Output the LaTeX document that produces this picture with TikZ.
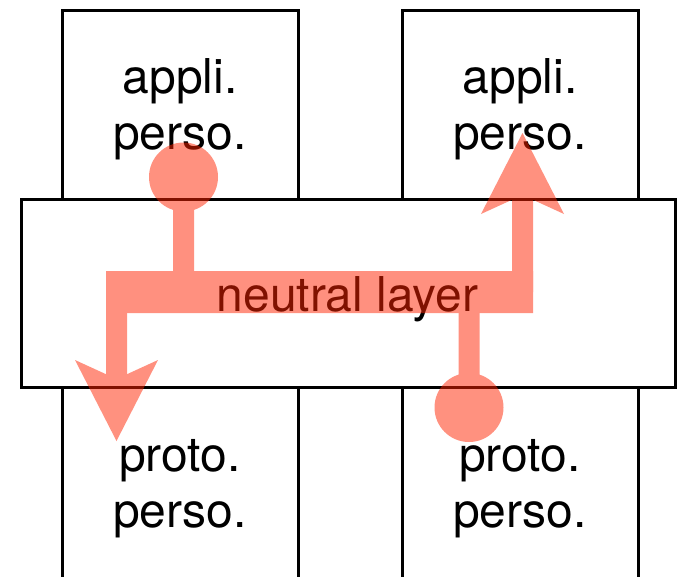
\documentclass[tikz,border=0pt]{standalone}
\usepackage{fontspec}
\setmainfont{TeX Gyre Heros}
\usetikzlibrary{arrows.meta}
\definecolor{salmonc}{RGB}{255,35,0}
\begin{document}
\begin{tikzpicture}[x=1pt,y=-1pt,
  box/.style={draw=black, line width=3pt, rectangle, inner sep=0pt, minimum width=236pt},
  lbl/.style={anchor=base, align=center, inner sep=0pt, font=\fontsize{48}{56.5}\selectfont},
  dot/.style={circle, fill=salmonc, inner sep=0pt, minimum size=69pt},
  barbox/.style={rectangle, fill=salmonc, inner sep=0pt, minimum width=427pt, minimum height=42pt},
  conn/.style={draw=salmonc, line width=21pt},
  bigtip/.style={-{Stealth[length=81pt,width=83pt,inset=19pt,line width=0pt]}}
]
\clip (0,0) rectangle (677,576);
% boxes
\node[box, minimum height=189pt] (tl) at (180,104.5) {};
\node[box, minimum height=189pt] (tr) at (520,104.5) {};
\node[box, minimum height=232.5pt] (bl) at (180,503.75) {};
\node[box, minimum height=232.5pt] (br) at (520,503.75) {};
\node[box, fill=white, minimum width=654.5pt, minimum height=188.5pt] (nl) at (348.25,293.25) {};
% texts (anchor = baseline of last line)
\node[lbl] (tlt) at (180,149.5) {appli.\\perso.};
\node[lbl] (trt) at (520,149.5) {appli.\\perso.};
\node[lbl] (blt) at (180,527.5) {proto.\\perso.};
\node[lbl] (brt) at (520,527.5) {proto.\\perso.};
\node[lbl] (nlt) at (347.5,311) {neutral layer};
% overlay
\begin{scope}[transparency group, opacity=0.5]
  \node[dot] (c1) at (183.5,177) {};
  \node[dot] (c2) at (469,407.5) {};
  \node[barbox] (bar) at (319.5,292) {};
  \coordinate (t1) at (116.5,441);
  \coordinate (t2) at (522.5,133);
  \draw[conn] (c1.center) -- (c1.center |- bar.center);
  \draw[conn] (c2.center) -- (c2.center |- bar.center);
  \draw[conn, bigtip] (t1 |- bar.center) -- (t1);
  \draw[conn, bigtip] (t2 |- bar.center) -- (t2);
\end{scope}
\end{tikzpicture}
\end{document}
